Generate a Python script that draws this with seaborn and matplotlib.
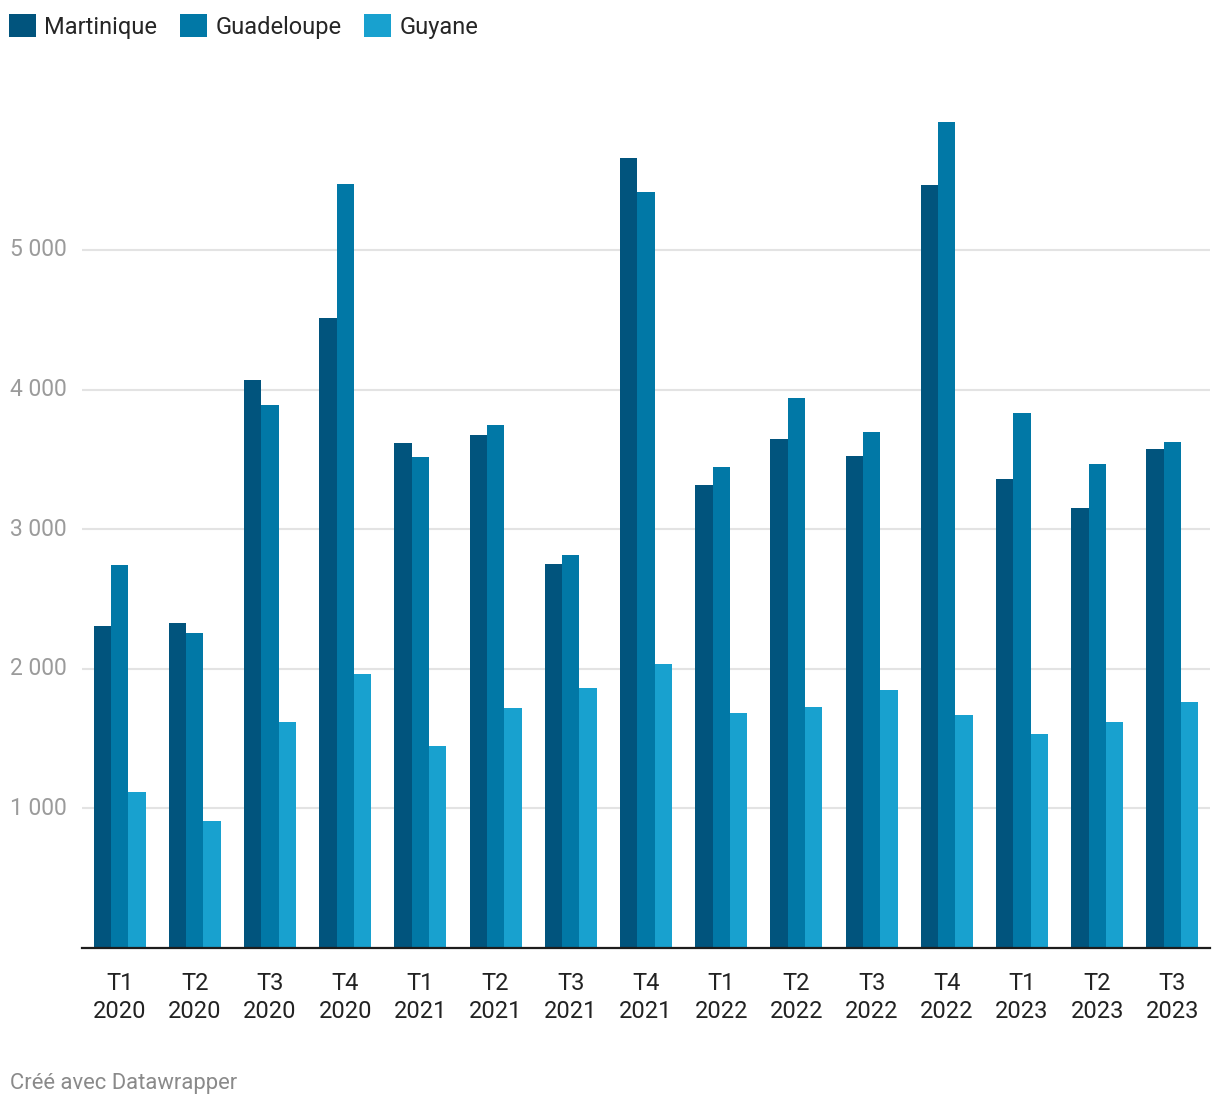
import pandas as pd
import seaborn as sns
import matplotlib.pyplot as plt
from matplotlib.patches import Patch

#%% Data
periods = ["T1\n2020", "T2\n2020", "T3\n2020", "T4\n2020",
           "T1\n2021", "T2\n2021", "T3\n2021", "T4\n2021",
           "T1\n2022", "T2\n2022", "T3\n2022", "T4\n2022",
           "T1\n2023", "T2\n2023", "T3\n2023"]
martinique = [2307, 2328, 4069, 4513, 3617, 3675, 2751, 5659,
              3317, 3646, 3524, 5466, 3360, 3152, 3575]
guadeloupe = [2744, 2256, 3890, 5473, 3517, 3746, 2815, 5415,
              3446, 3940, 3696, 5917, 3832, 3467, 3625]
guyane = [1117, 910, 1619, 1963, 1447, 1719, 1862, 2034,
          1683, 1726, 1848, 1669, 1533, 1619, 1762]
series = ["Martinique", "Guadeloupe", "Guyane"]
colors = ["#01547d", "#0178a6", "#18a1cf"]

df = pd.DataFrame({"period": periods * 3,
                   "region": [s for s in series for _ in periods],
                   "value": martinique + guadeloupe + guyane})

#%% Plot
sns.set_style("white")
plt.rcParams['font.family'] = ['Roboto', 'DejaVu Sans']

fig = plt.figure(figsize=(12.2, 11.08), dpi=100)
ax = fig.add_axes([82 / 1220, 160 / 1108, 1128 / 1220, 878 / 1108])

sns.barplot(data=df, x="period", y="value", hue="region", palette=colors,
            saturation=1, width=0.69, linewidth=0, edgecolor="none",
            ax=ax, legend=False)

ax.set_xlim(-0.5, len(periods) - 0.5)
ax.set_ylim(0, 878 / 0.1396)
ax.set_yticks([1000, 2000, 3000, 4000, 5000])
ax.set_yticklabels(["1 000", "2 000", "3 000", "4 000", "5 000"])
ax.grid(axis="y", color="#e3e3e3", linewidth=1.5)
ax.set_axisbelow(True)
ax.set_xlabel("")
ax.set_ylabel("")

for s in ["top", "right", "left"]:
    ax.spines[s].set_visible(False)
ax.spines["bottom"].set_color("#1d1d1d")
ax.spines["bottom"].set_linewidth(1.6)

ax.tick_params(axis="x", length=7, width=1.6, color="#1d1d1d",
               labelsize=17, labelcolor="#222222", pad=10)
ax.tick_params(axis="y", length=0, labelsize=16.5, labelcolor="#9b9b9b", pad=0)
for lbl in ax.get_xticklabels():
    lbl.set_linespacing(1.3)
for lbl in ax.get_yticklabels():
    lbl.set_horizontalalignment("left")
    lbl.set_verticalalignment("center")
    lbl.set_x(-72 / 1128)

handles = [Patch(facecolor=c, edgecolor="none", label=s) for s, c in zip(series, colors)]
fig.legend(handles=handles, loc="upper left", bbox_to_anchor=(9 / 1220, 1 - 14 / 1108),
           ncol=3, frameon=False, fontsize=17, handlelength=1.15, handleheight=1.15,
           handletextpad=0.35, columnspacing=0.95, borderpad=0, borderaxespad=0)

fig.text(10 / 1220, 1 - 1083 / 1108, "Créé avec Datawrapper", fontsize=15.8,
         color="#8a8a8a", va="center", ha="left")

plt.savefig("out.png", dpi=100)
